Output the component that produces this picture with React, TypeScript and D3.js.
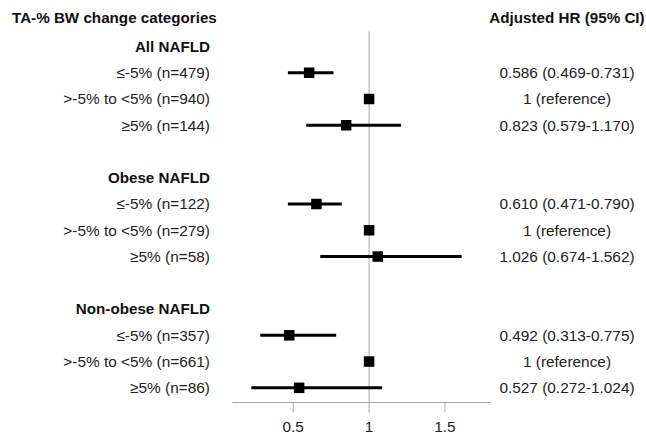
import React from "react";
import * as d3 from "d3";

const groups = ["All NAFLD", "Obese NAFLD", "Non-obese NAFLD"];
const categoryLabels = [
  "≤-5% (n=479)", ">-5% to <5% (n=940)", "≥5% (n=144)",
  "≤-5% (n=122)", ">-5% to <5% (n=279)", "≥5% (n=58)",
  "≤-5% (n=357)", ">-5% to <5% (n=661)", "≥5% (n=86)",
];
const hrLabels = [
  "0.586 (0.469-0.731)", "1 (reference)", "0.823 (0.579-1.170)",
  "0.610 (0.471-0.790)", "1 (reference)", "1.026 (0.674-1.562)",
  "0.492 (0.313-0.775)", "1 (reference)", "0.527 (0.272-1.024)",
];
const estimates = [0.605, 1, 0.849, 0.653, 1, 1.057, 0.474, 1, 0.539];
const lower = [0.465, 1, 0.586, 0.465, 1, 0.678, 0.283, 1, 0.224];
const upper = [0.765, 1, 1.211, 0.82, 1, 1.61, 0.783, 1, 1.086];
const xTicks = [0.5, 1, 1.5];

const W = 646;
const H = 437;
const FONT = "'Liberation Sans', Arial, sans-serif";
const FS = 15.4;
const FSB = 15.2;

export default function App() {
  const x = d3.scaleLinear().domain([0.1, 1.8]).range([232.5, 490.5]);
  const y = d3.scaleLinear().domain([0, 13]).range([46.5, 387.8]);
  const rowIndex = (i: number) => Math.floor(i / 3) * 5 + (i % 3) + 1;
  const axisY = 402.5;
  const sq = 10.5;
  const labelRight = 210;
  const hrCenter = 567;

  return (
    <svg
      width={W}
      height={H}
      style={{ position: "absolute", left: 0, top: 0, background: "#fff" }}
      fontFamily={FONT}
    >
      <rect width={W} height={H} fill="#fff" />
      {/* titles */}
      <text x={12} y={18} dy="0.35em" fontSize={FSB} fontWeight="bold" fill="#111">
        TA-% BW change categories
      </text>
      <text x={hrCenter} y={18} dy="0.35em" fontSize={FSB} fontWeight="bold" fill="#111" textAnchor="middle">
        Adjusted HR (95% CI)
      </text>

      {/* reference line */}
      <line x1={x(1)} x2={x(1)} y1={31.5} y2={axisY} stroke="#c4c4c4" strokeWidth={1.5} />

      {/* x axis */}
      <line x1={x.range()[0]} x2={x.range()[1]} y1={axisY} y2={axisY} stroke="#a6a6a6" strokeWidth={1} />
      {xTicks.map((t) => (
        <g key={t}>
          <line x1={x(t)} x2={x(t)} y1={axisY} y2={axisY + 10} stroke="#a6a6a6" strokeWidth={1} />
          <text x={x(t)} y={426.5} dy="0.35em" textAnchor="middle" fontSize={FS} fill="#222">
            {d3.format("")(t)}
          </text>
        </g>
      ))}

      {/* group headers */}
      {groups.map((g, gi) => (
        <text
          key={g}
          x={labelRight}
          y={y(gi * 5)}
          dy="0.35em"
          textAnchor="end"
          fontSize={FSB}
          fontWeight="bold"
          fill="#111"
        >
          {g}
        </text>
      ))}

      {/* rows */}
      {categoryLabels.map((lab, i) => {
        const yy = y(rowIndex(i));
        return (
          <g key={i}>
            <text x={labelRight} y={yy} dy="0.35em" textAnchor="end" fontSize={FS} fill="#222">
              {lab}
            </text>
            <text x={hrCenter} y={yy} dy="0.35em" textAnchor="middle" fontSize={FS} fill="#222">
              {hrLabels[i]}
            </text>
            <line x1={x(lower[i])} x2={x(upper[i])} y1={yy} y2={yy} stroke="#000" strokeWidth={3} />
            <rect x={x(estimates[i]) - sq / 2} y={yy - sq / 2} width={sq} height={sq} fill="#000" />
          </g>
        );
      })}
    </svg>
  );
}
